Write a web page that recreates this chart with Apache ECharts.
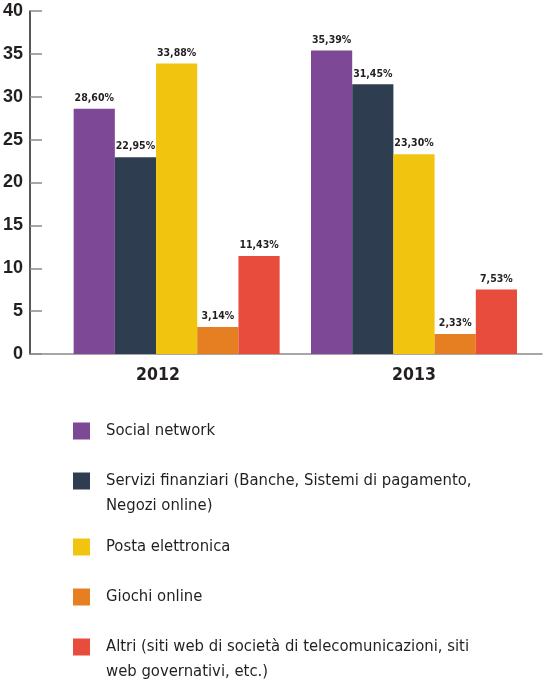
<!DOCTYPE html>
<html>
<head>
<meta charset="utf-8">
<script src="https://cdn.jsdelivr.net/npm/echarts@6/dist/echarts.min.js"></script>
<style>
  html, body { margin: 0; padding: 0; background: #fff; }
  #chart { width: 543px; height: 686px; }
</style>
</head>
<body>
<div id="chart"></div>
<script>
// categorie (anni) e serie
const years = ['2012', '2013'];
const seriesNames = [
    'Social network',
    'Servizi finanziari (Banche, Sistemi di pagamento, Negozi online)',
    'Posta elettronica',
    'Giochi online',
    'Altri (siti web di società di telecomunicazioni, siti web governativi, etc.)'
];
// testo della legenda (a capo come nell'originale)
const legendLabels = [
    'Social network',
    'Servizi finanziari (Banche, Sistemi di pagamento,\nNegozi online)',
    'Posta elettronica',
    'Giochi online',
    'Altri (siti web di società di telecomunicazioni, siti\nweb governativi, etc.)'
];
const values2012 = [28.60, 22.95, 33.88, 3.14, 11.43];
const values2013 = [35.39, 31.45, 23.30, 2.33, 7.53];
const yTicks = [0, 5, 10, 15, 20, 25, 30, 35, 40];

const colors = ['#7d4997', '#2e3e50', '#f1c40f', '#e67e22', '#e74c3c'];
const narrow = "'Liberation Sans Narrow', 'DejaVu Sans Condensed', 'Roboto', sans-serif";
const textColor = '#231f20';

const chart = echarts.init(document.getElementById('chart'));

function pct(v) {
    return v.toFixed(2).replace('.', ',') + '%';
}

const barLabel = {
    show: true,
    position: 'top',
    distance: 5,
    color: textColor,
    fontFamily: narrow,
    fontWeight: 'bold',
    fontSize: 10.5,
    formatter: p => pct(p.value)
};

// serie del 2013 sulla griglia principale
const series2013 = seriesNames.map((name, i) => ({
    name: name,
    type: 'bar',
    xAxisIndex: 0,
    yAxisIndex: 0,
    barWidth: 41.2,
    barGap: 0,
    itemStyle: { color: colors[i] },
    label: barLabel,
    data: ['-', values2013[i]]
}));

// serie del 2012 su una seconda griglia (il gruppo è spostato a destra)
const series2012 = seriesNames.map((name, i) => ({
    name: name,
    type: 'bar',
    xAxisIndex: 1,
    yAxisIndex: 1,
    barWidth: 41.2,
    barGap: 0,
    itemStyle: { color: colors[i] },
    label: barLabel,
    data: [values2012[i]]
}));

// legende separate, una per voce
const legendTops = [418.5, 443.5, 534.5, 584.5, 609.5];
const legends = seriesNames.map((name, i) => {
    const text = legendLabels[i].indexOf('\n') >= 0 ? '\n' + legendLabels[i] : legendLabels[i];
    return {
        orient: 'vertical',
        left: 73,
        top: legendTops[i],
        padding: 0,
        itemWidth: 17,
        itemHeight: 17,
        icon: 'rect',
        selectedMode: false,
        data: [name],
        formatter: () => text,
        textStyle: {
            color: textColor,
            fontFamily: narrow,
            fontSize: 16.5,
            lineHeight: 25,
            padding: [0, 0, 0, 11]
        }
    };
});

const yMin = yTicks[0];
const yMax = yTicks[yTicks.length - 1];
const yStep = yTicks[1] - yTicks[0];

option = {
    animation: false,
    legend: legends,
    grid: [
        { left: 29, right: 1, top: 11, bottom: 332 },
        { left: 68, right: 257.7, top: 11, bottom: 332 }
    ],
    xAxis: [
        {
            type: 'category',
            gridIndex: 0,
            data: years,
            axisLine: { lineStyle: { color: '#8a8a8a', width: 1.5 } },
            axisTick: { inside: true, length: 7, lineStyle: { color: '#555', width: 1.2 } },
            axisLabel: {
                color: textColor,
                fontFamily: narrow,
                fontWeight: 'bold',
                fontSize: 17.5,
                margin: 12
            }
        },
        {
            type: 'category',
            gridIndex: 1,
            data: [years[0]],
            show: false
        }
    ],
    yAxis: [
        {
            type: 'value',
            gridIndex: 0,
            min: yMin,
            max: yMax,
            interval: yStep,
            splitLine: { show: false },
            axisLine: { show: true, lineStyle: { color: '#231f20', width: 1.5 } },
            axisTick: { show: true, inside: true, length: 12, lineStyle: { color: '#8a8a8a', width: 1.5 } },
            axisLabel: {
                color: textColor,
                fontFamily: "'Liberation Sans', Arial, sans-serif",
                fontWeight: 'bold',
                fontSize: 18,
                margin: 7
            }
        },
        {
            type: 'value',
            gridIndex: 1,
            min: yMin,
            max: yMax,
            interval: yStep,
            show: false
        }
    ],
    series: series2013.concat(series2012)
};

chart.setOption(option);
</script>
</body>
</html>
